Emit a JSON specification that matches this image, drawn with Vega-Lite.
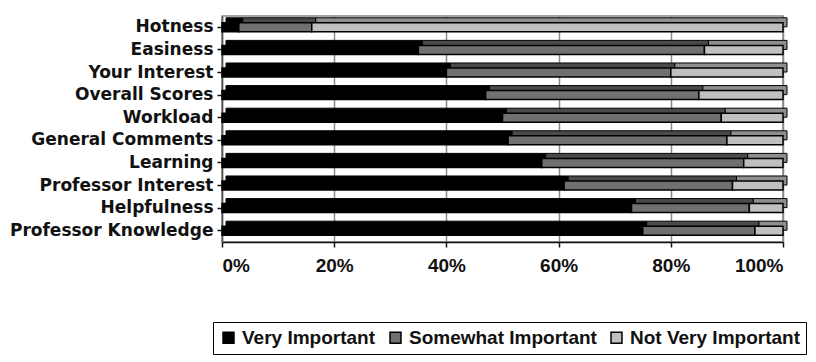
{
  "$schema": "https://vega.github.io/schema/vega-lite/v6.json",
  "width": 561,
  "height": 226,
  "autosize": {"type": "none"},
  "padding": {"left": 222, "top": 16, "right": 33, "bottom": 120},
  "background": "white",
  "config": {
    "view": {"stroke": "#888888", "strokeWidth": 1.5},
    "font": "Liberation Sans"
  },
  "data": {
    "values": [
      {"item": "Hotness", "level": "Very Important", "rank": 1, "pct": 3},
      {"item": "Hotness", "level": "Somewhat Important", "rank": 2, "pct": 13},
      {"item": "Hotness", "level": "Not Very Important", "rank": 3, "pct": 84},
      {"item": "Easiness", "level": "Very Important", "rank": 1, "pct": 35},
      {"item": "Easiness", "level": "Somewhat Important", "rank": 2, "pct": 51},
      {"item": "Easiness", "level": "Not Very Important", "rank": 3, "pct": 14},
      {"item": "Your Interest", "level": "Very Important", "rank": 1, "pct": 40},
      {"item": "Your Interest", "level": "Somewhat Important", "rank": 2, "pct": 40},
      {"item": "Your Interest", "level": "Not Very Important", "rank": 3, "pct": 20},
      {"item": "Overall Scores", "level": "Very Important", "rank": 1, "pct": 47},
      {"item": "Overall Scores", "level": "Somewhat Important", "rank": 2, "pct": 38},
      {"item": "Overall Scores", "level": "Not Very Important", "rank": 3, "pct": 15},
      {"item": "Workload", "level": "Very Important", "rank": 1, "pct": 50},
      {"item": "Workload", "level": "Somewhat Important", "rank": 2, "pct": 39},
      {"item": "Workload", "level": "Not Very Important", "rank": 3, "pct": 11},
      {"item": "General Comments", "level": "Very Important", "rank": 1, "pct": 51},
      {"item": "General Comments", "level": "Somewhat Important", "rank": 2, "pct": 39},
      {"item": "General Comments", "level": "Not Very Important", "rank": 3, "pct": 10},
      {"item": "Learning", "level": "Very Important", "rank": 1, "pct": 57},
      {"item": "Learning", "level": "Somewhat Important", "rank": 2, "pct": 36},
      {"item": "Learning", "level": "Not Very Important", "rank": 3, "pct": 7},
      {"item": "Professor Interest", "level": "Very Important", "rank": 1, "pct": 61},
      {"item": "Professor Interest", "level": "Somewhat Important", "rank": 2, "pct": 30},
      {"item": "Professor Interest", "level": "Not Very Important", "rank": 3, "pct": 9},
      {"item": "Helpfulness", "level": "Very Important", "rank": 1, "pct": 73},
      {"item": "Helpfulness", "level": "Somewhat Important", "rank": 2, "pct": 21},
      {"item": "Helpfulness", "level": "Not Very Important", "rank": 3, "pct": 6},
      {"item": "Professor Knowledge", "level": "Very Important", "rank": 1, "pct": 75},
      {"item": "Professor Knowledge", "level": "Somewhat Important", "rank": 2, "pct": 20},
      {"item": "Professor Knowledge", "level": "Not Very Important", "rank": 3, "pct": 5}
    ]
  },
  "encoding": {
    "y": {
      "field": "item",
      "type": "nominal",
      "sort": ["Hotness", "Easiness", "Your Interest", "Overall Scores", "Workload", "General Comments", "Learning", "Professor Interest", "Helpfulness", "Professor Knowledge"],
      "scale": {"paddingInner": 0.6, "paddingOuter": 0.3},
      "axis": {
        "title": null,
        "labelFont": "DejaVu Sans",
        "labelFontWeight": "bold",
        "labelFontSize": 17,
        "labelLimit": 260,
        "labelColor": "#111111",
        "labelPadding": 4,
        "domainColor": "#555555",
        "domainWidth": 1.5,
        "tickColor": "#111111",
        "tickSize": 5,
        "tickWidth": 1.5
      }
    },
    "x": {
      "field": "pct",
      "type": "quantitative",
      "stack": "normalize",
      "scale": {"domain": [0, 1]},
      "axis": {
        "title": null,
        "format": ".0%",
        "values": [0, 0.2, 0.4, 0.6, 0.8, 1],
        "labelFont": "Liberation Sans",
        "labelFontWeight": "bold",
        "labelFontSize": 19,
        "labelColor": "#111111",
        "labelPadding": 9,
        "grid": true,
        "gridColor": "#8a8a8a",
        "gridWidth": 1.5,
        "domainColor": "#111111",
        "domainWidth": 1.5,
        "tickColor": "#111111",
        "tickSize": 5,
        "tickWidth": 1.5
      }
    },
    "order": {"field": "rank", "type": "quantitative"}
  },
  "layer": [
    {
      "mark": {"type": "bar", "yOffset": -5, "xOffset": 4, "stroke": "#000000", "strokeWidth": 1},
      "encoding": {
        "color": {
          "field": "level",
          "type": "nominal",
          "scale": {"domain": ["Very Important", "Somewhat Important", "Not Very Important"], "range": ["#000000", "#4a4a4a", "#8e8e8e"]},
          "legend": null
        }
      }
    },
    {
      "mark": {"type": "bar", "stroke": "#000000", "strokeWidth": 1.5},
      "encoding": {
        "color": {
          "field": "level",
          "type": "nominal",
          "scale": {"domain": ["Very Important", "Somewhat Important", "Not Very Important"], "range": ["#000000", "#707070", "#c0c0c0"]},
          "legend": {
            "title": null,
            "orient": "none",
            "legendX": -9,
            "legendY": 306,
            "direction": "horizontal",
            "strokeColor": "#000000",
            "padding": 6,
            "symbolType": "square",
            "symbolSize": 120,
            "symbolStrokeColor": "#000000",
            "symbolStrokeWidth": 1.5,
            "symbolOpacity": 1,
            "labelFont": "Liberation Sans",
            "labelFontWeight": "bold",
            "labelFontSize": 19,
            "labelColor": "#111111",
            "labelLimit": 300,
            "columnPadding": 10,
            "symbolOffset": 0
          }
        }
      }
    }
  ],
  "resolve": {"scale": {"color": "independent"}}
}
